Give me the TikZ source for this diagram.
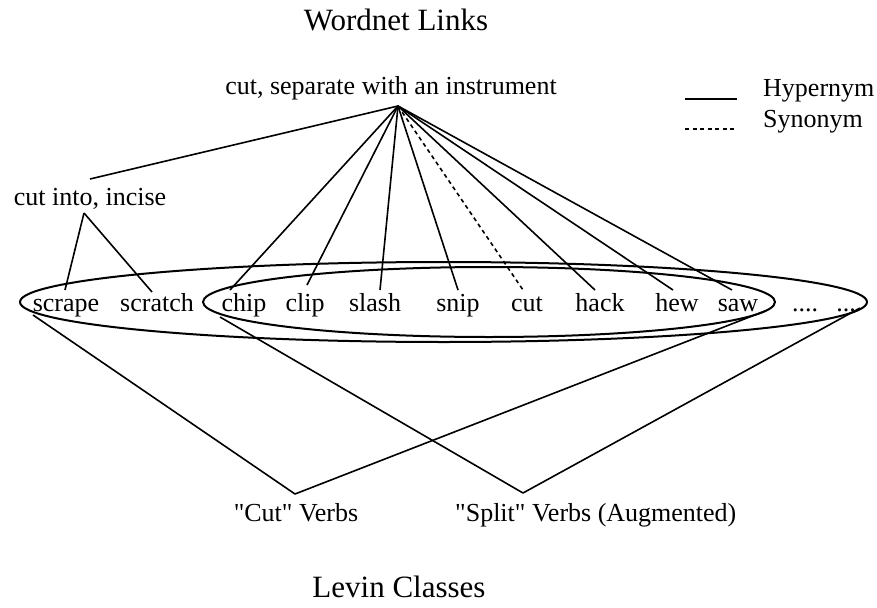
\documentclass[tikz,border=0pt]{standalone}
\usepackage{fontspec}
\setmainfont{Liberation Serif}
\begin{document}
\begin{tikzpicture}[x=1pt,y=-1pt,
  lbl/.style={inner sep=0pt, font=\fontsize{26}{30}\selectfont, anchor=base},
  ttl/.style={inner sep=0pt, font=\fontsize{31}{36}\selectfont, anchor=base},
  link/.style={line width=1.6pt, line join=round},
  syn/.style={line width=1.6pt, dash pattern=on 4pt off 3.5pt},
  oval/.style={line width=2pt}]
\useasboundingbox (0,0) rectangle (877,607);

% titles
\node[ttl] (wn) at (396,31) {Wordnet Links};
\node[ttl] (lv) at (399,597) {Levin Classes};

% upper synsets
\node[lbl] (sep) at (391,95) {cut, separate with an instrument};
\node[lbl] (inc) at (90,205) {cut into, incise};
\coordinate (top) at (398,106);
\coordinate (incR) at (90,179);
\coordinate (incB) at (84,213);

% legend
\coordinate (h1) at (685,99);  \coordinate (h2) at (737,99);
\coordinate (s1) at (685,129); \coordinate (s2) at (737,129);
\node[lbl, anchor=base west] (hyp) at (763,96) {Hypernym};
\node[lbl, anchor=base west] (syn) at (763,128) {Synonym};
\draw[link] (h1) -- (h2);
\draw[syn] (s1) -- (s2);

% words
\node[lbl] (scrape) at (66,311) {scrape};
\node[lbl] (scratch) at (157,311) {scratch};
\node[lbl] (chip) at (244,311) {chip};
\node[lbl] (clip) at (305,311) {clip};
\node[lbl] (slash) at (375,311) {slash};
\node[lbl] (snip) at (458,311) {snip};
\node[lbl] (cutw) at (527,311) {cut};
\node[lbl] (hack) at (600,311) {hack};
\node[lbl] (hew) at (677,311) {hew};
\node[lbl] (saw) at (738,311) {saw};
\node[lbl] (dots1) at (805,311) {....};
\node[lbl] (dots2) at (846,311) {...};

% ellipses
\draw[oval] (443.5,302) ellipse [x radius=423.5, y radius=40];
\draw[oval] (489,302) ellipse [x radius=286, y radius=35];

% word attachment points
\coordinate (scrapeT) at (65,290);
\coordinate (scratchT) at (152,292);
\coordinate (chipT) at (230,290);
\coordinate (clipT) at (307,285);
\coordinate (slashT) at (380,290);
\coordinate (snipT) at (458,290);
\coordinate (cutT) at (523,290);
\coordinate (hackT) at (595,290);
\coordinate (hewT) at (673,290);
\coordinate (sawT) at (732,290);

\draw[link] (top) -- (incR);
\draw[link] (incB) -- (scrapeT);
\draw[link] (incB) -- (scratchT);
\foreach \w in {chipT,clipT,slashT,snipT,hackT,hewT,sawT}
  \draw[link] (top) -- (\w);
\draw[syn] (top) -- (cutT);

% Levin classes
\node[lbl] (cutv) at (296,521) {\textquotedbl Cut\textquotedbl{} Verbs};
\node[lbl, anchor=base west] (splitv) at (455,521) {\textquotedbl Split\textquotedbl{} Verbs (Augmented)};
\coordinate (cutA) at (295,494);
\coordinate (splitA) at (523,493);
\coordinate (scrapeB) at (33,315);
\coordinate (sawB) at (765,311);
\coordinate (chipB) at (220,317);
\coordinate (dotsB) at (860,308);
\draw[link] (scrapeB) -- (cutA) -- (sawB);
\draw[link] (chipB) -- (splitA) -- (dotsB);
\end{tikzpicture}
\end{document}
